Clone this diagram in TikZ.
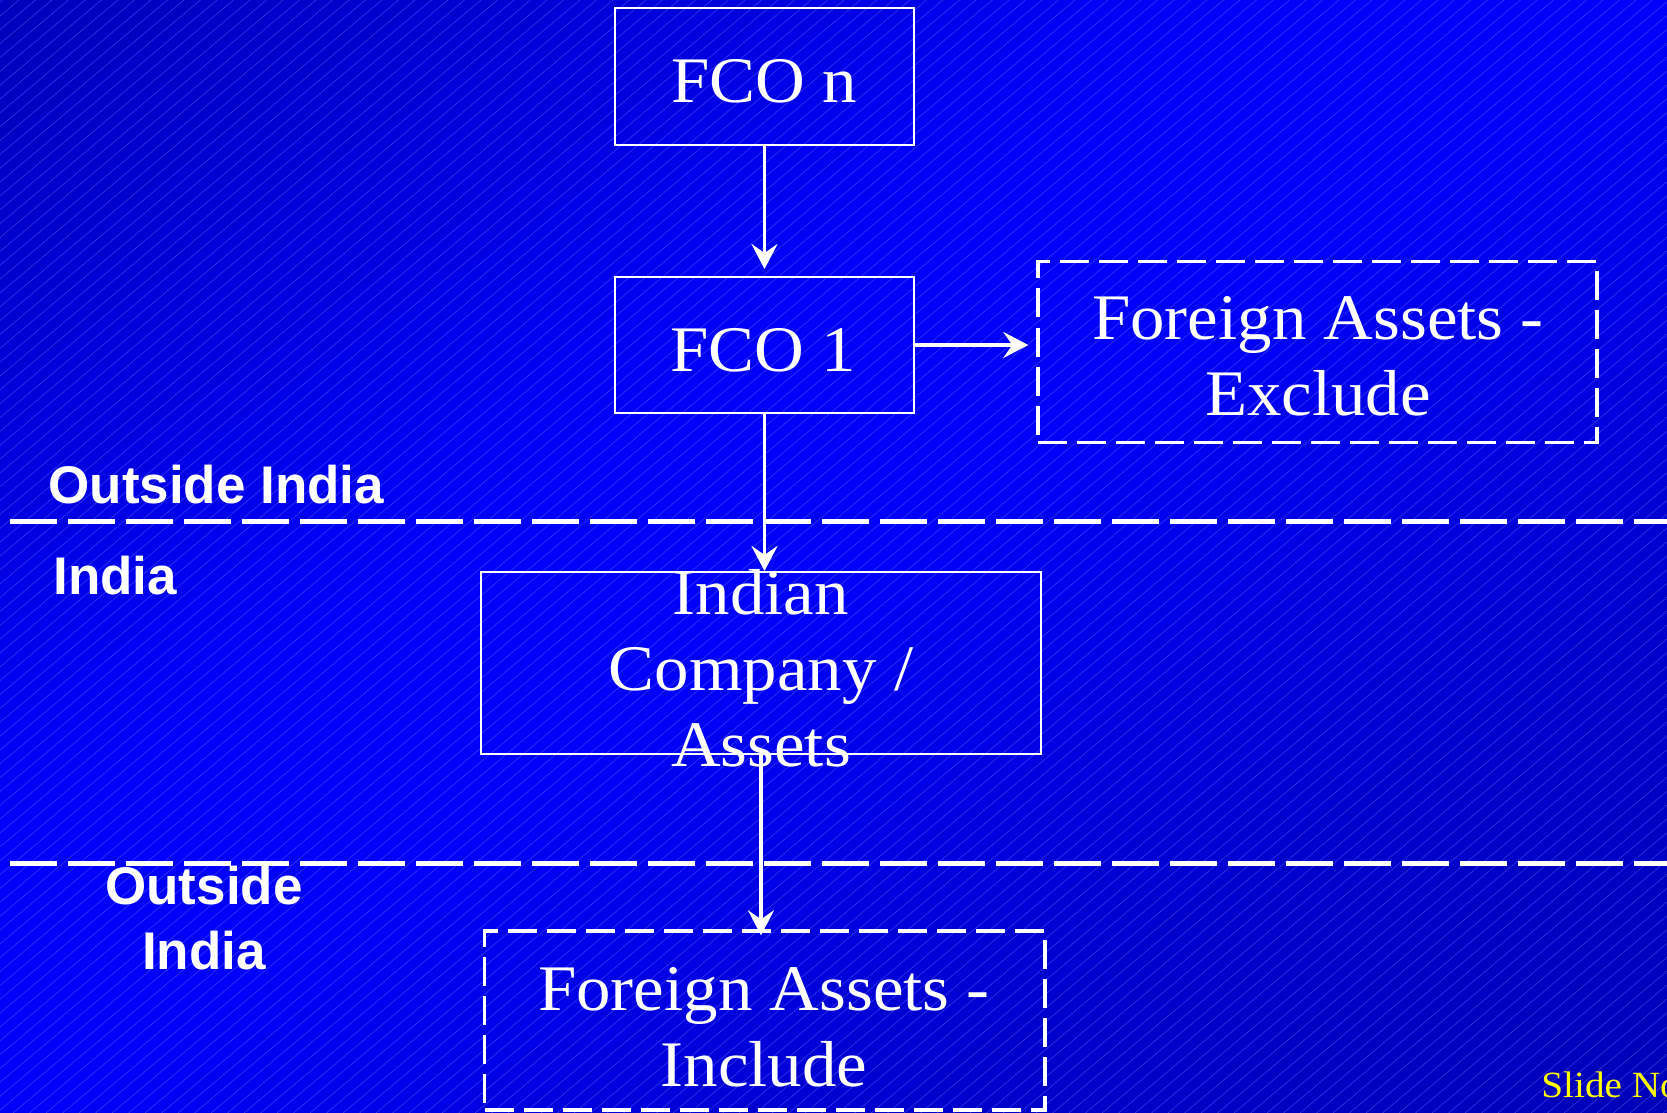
\documentclass[tikz,border=0pt]{standalone}
\usepackage{fontspec}
\setsansfont{Liberation Sans}
\newfontfamily\serfont[FakeStretch=1.06]{Liberation Serif}
\usetikzlibrary{arrows.meta}
\definecolor{bgstripe}{RGB}{120,125,255}
\definecolor{slideyellow}{RGB}{255,255,0}
\definecolor{bgC}{RGB}{0,0,250}
\begin{document}
\begin{tikzpicture}[x=0.5pt,y=-0.5pt,
  stripe/.style={draw=bgstripe, line width=0.3pt, opacity=0.45},
  solidbox/.style={draw=white, line width=1pt, inner sep=0pt},
  dashbox/.style={draw=white, line width=1.7pt, inner sep=0pt, dash pattern=on 14.5pt off 5pt},
  divline/.style={draw=white, line width=2.5pt, dash pattern=on 23.5pt off 5.5pt},
  flowarrow/.style={draw=white, line width=1.9pt, -{Stealth[length=12.5pt,width=13pt,inset=4.5pt]}},
  sertext/.style={text=white, inner sep=0pt, align=center, font=\serfont\fontsize{32.5pt}{38pt}\selectfont},
  santext/.style={text=white, inner sep=0pt, align=center, font=\sffamily\bfseries\fontsize{26.5pt}{32.5pt}\selectfont},
  slidetext/.style={text=slideyellow, inner sep=0pt, font=\serfont\fontsize{18.5pt}{22pt}\selectfont}]
\useasboundingbox (0,0) rectangle (1667,1113);
\clip (0,0) rectangle (1667,1113);
% background: diagonal gradient built from bands (dark top-left, bright diagonal, dark bottom-right)
\fill[bgC] (0,0) rectangle (1667,1113);
\foreach \k in {0,...,49} {
  \pgfmathsetmacro\pa{-1010+\k*40.4}
  \pgfmathsetmacro\pb{\pa+42}
  \pgfmathsetmacro\bp{50+(\pa+20.2)/20.04}
  \pgfmathtruncatemacro\bv{\bp<25 ? 180+25*\bp/25 : (\bp<50 ? 205+45*(\bp-25)/25 : (\bp<62 ? 250-2*(\bp-50)/12 : (\bp<80 ? 248-33*(\bp-62)/18 : 215-35*(\bp-80)/20)))}
  \pgfmathsetmacro\xa{833.5-0.556*\pa-914.1}
  \pgfmathsetmacro\ya{556.5-0.831*\pa+611.6}
  \pgfmathsetmacro\xb{833.5-0.556*\pa+914.1}
  \pgfmathsetmacro\yb{556.5-0.831*\pa-611.6}
  \pgfmathsetmacro\xc{833.5-0.556*\pb+914.1}
  \pgfmathsetmacro\yc{556.5-0.831*\pb-611.6}
  \pgfmathsetmacro\xd{833.5-0.556*\pb-914.1}
  \pgfmathsetmacro\yd{556.5-0.831*\pb+611.6}
  \definecolor{bandc}{RGB}{0,0,\bv}
  \fill[bandc] (\xa,\ya) -- (\xb,\yb) -- (\xc,\yc) -- (\xd,\yd) -- cycle;
}
\foreach \i in {-1340,-1323.5,...,1690} \draw[stripe] (\i,1113) -- ++(1326,-1113);
% divider lines
\draw[divline] (10,521) -- (1667,521);
\draw[divline] (10,863) -- (1667,863);
% boxes
\node[solidbox, minimum width=149.5pt, minimum height=68.25pt] (fcon) at (764.5,76.75) {};
\node[solidbox, minimum width=149.5pt, minimum height=68pt] (fcoa) at (764.5,345) {};
\node[dashbox, minimum width=279.5pt, minimum height=90.5pt] (excl) at (1317.5,352) {};
\node[solidbox, minimum width=280pt, minimum height=90.85pt] (indco) at (761,662.8) {};
\node[dashbox, minimum width=280.25pt, minimum height=89.5pt] (incl) at (764.75,1020.5) {};
% box texts
\node[sertext, anchor=base] (tfcon) at (764,103) {FCO n};
\node[sertext, anchor=base] (tfcoa) at (763,371) {FCO 1};
\node[sertext] (texcl) at (1318,356) {Foreign Assets -\\Exclude};
\node[sertext] (tindco) at (761,668) {Indian\\Company /\\Assets};
\node[sertext] (tincl) at (764,1027) {Foreign Assets -\\Include};
% region labels
\node[santext, anchor=base west] (lout) at (48,503) {Outside India};
\node[santext, anchor=base west] (lind) at (53,594) {India};
\node[santext] (lout2) at (204,918) {Outside\\India};
\node[slidetext, anchor=base west] (slno) at (1541,1097) {Slide No.};
% connectors
\draw[flowarrow, shorten >=3.5pt] (fcon.south) -- (fcoa.north);
\draw[flowarrow, shorten >=4pt] (fcoa.east) -- (fcoa.east -| excl.west);
\draw[flowarrow] (fcoa.south) -- (fcoa.south |- indco.north);
\draw[flowarrow, shorten >=-3pt] (indco.south) -- (indco.south |- incl.north);
\end{tikzpicture}
\end{document}
